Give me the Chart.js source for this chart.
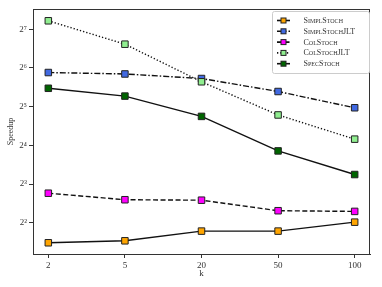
<!DOCTYPE html>
<html>
<head>
<meta charset="utf-8">
<script src="https://cdn.jsdelivr.net/npm/chart.js@4/dist/chart.umd.min.js"></script>
<style>
  html, body { margin: 0; padding: 0; background: #fff; }
  #wrap { width: 382px; height: 287px; }
</style>
</head>
<body>
<div id="wrap"><canvas id="chart"></canvas></div>
<script>
const categories = ['2', '5', '20', '50', '100'];
const seriesNames = ['SimplStoch', 'SimplStochJLT', 'ColStoch', 'ColStochJLT', 'SpecStoch'];
const simplStoch = [2.8, 2.9, 3.45, 3.45, 4.05];
const simplStochJLT = [59, 57.5, 53, 42, 31.4];
const colStoch = [6.8, 6.05, 6.0, 4.97, 4.91];
const colStochJLT = [149, 98, 50, 27.6, 17.9];
const specStoch = [44.5, 38.7, 26.9, 14.5, 9.5];
const yTickValues = [4, 8, 16, 32, 64, 128];
const yTickLabels = ['2²', '2³', '2⁴', '2⁵', '2⁶', '2⁷'];

const colors = ['#ffa500', '#4169e1', '#ff00ff', '#90ee90', '#006400'];
const dashes = [[], [6, 2, 1.5, 2], [5, 2.5], [1.3, 2], []];
const allSeries = [simplStoch, simplStochJLT, colStoch, colStochJLT, specStoch];

const serif = "'Liberation Serif', 'DejaVu Serif', serif";
const frameColor = '#333';
const textColor = '#333';

const datasets = [];
for (let i = 0; i < allSeries.length; i++) {
  datasets.push({
    label: seriesNames[i],
    data: allSeries[i].map((v, j) => ({ x: j, y: v })),
    borderColor: '#111',
    borderWidth: 1.4,
    borderDash: dashes[i],
    backgroundColor: colors[i],
    pointStyle: 'rect',
    pointRadius: 4.6,
    pointBorderWidth: 1,
    pointBorderColor: '#222',
    pointBackgroundColor: colors[i],
    tension: 0,
    order: allSeries.length - i
  });
}

// frame on all four sides + matplotlib style legend
const framePlugin = {
  id: 'frame',
  afterDatasetsDraw(chart) {
    const a = chart.chartArea;
    const ctx = chart.ctx;
    ctx.save();
    ctx.strokeStyle = frameColor;
    ctx.lineWidth = 1;
    ctx.strokeRect(a.left + 0.5, a.top + 0.5, a.right - a.left - 1, a.bottom - a.top);
    ctx.restore();
  },
  afterDraw(chart) {
    const ctx = chart.ctx;
    const x0 = 272, y0 = 11, w = 97, h = 62;
    ctx.save();
    ctx.fillStyle = 'rgba(255,255,255,0.85)';
    ctx.strokeStyle = '#cccccc';
    ctx.lineWidth = 1;
    ctx.beginPath();
    ctx.roundRect(x0 + 0.5, y0 + 0.5, w, h, 2);
    ctx.fill();
    ctx.stroke();
    chart.data.datasets.forEach((ds, i) => {
      const y = y0 + 9.5 + i * 10.8;
      ctx.strokeStyle = ds.borderColor;
      ctx.lineWidth = 1.6;
      ctx.setLineDash(ds.borderDash);
      ctx.beginPath();
      ctx.moveTo(277, y);
      ctx.lineTo(290, y);
      ctx.stroke();
      ctx.setLineDash([]);
      ctx.fillStyle = ds.pointBackgroundColor;
      ctx.fillRect(281, y - 2.5, 5, 5);
      ctx.strokeStyle = '#222';
      ctx.lineWidth = 1;
      ctx.strokeRect(281, y - 2.5, 5, 5);
      ctx.fillStyle = textColor;
      ctx.font = "small-caps 8px " + serif;
      ctx.fontVariantCaps = 'small-caps';
      ctx.textBaseline = 'middle';
      ctx.fillText(ds.label, 303.5, y + 0.5);
      ctx.fontVariantCaps = 'normal';
    });
    ctx.restore();
  }
};

const ctx = document.getElementById('chart');

new Chart(ctx, {
  type: 'line',
  data: { datasets: datasets },
  options: {
    responsive: true,
    maintainAspectRatio: false,
    animation: false,
    devicePixelRatio: 1,
    layout: { padding: { left: 0, right: 12, top: 9, bottom: 0 } },
    plugins: {
      legend: { display: false },
      tooltip: { enabled: false }
    },
    scales: {
      x: {
        type: 'linear',
        min: -0.2,
        max: 4.2,
        afterBuildTicks: (axis) => { axis.ticks = categories.map((c, j) => ({ value: j })); },
        afterFit: (axis) => { axis.height = 33; },
        ticks: {
          callback: (v) => categories[v],
          color: textColor,
          padding: 2,
          maxRotation: 0,
          font: { family: serif, size: 9 }
        },
        grid: { drawOnChartArea: false, drawTicks: true, tickLength: 4, color: frameColor },
        border: { display: true, color: frameColor },
        title: { display: true, text: 'k', color: textColor, padding: { top: 0, bottom: 8 }, font: { family: serif, size: 9 } }
      },
      y: {
        type: 'logarithmic',
        min: 2.29,
        max: 184,
        afterBuildTicks: (axis) => { axis.ticks = yTickValues.map(v => ({ value: v })); },
        afterFit: (axis) => { axis.width = 33; },
        ticks: {
          callback: (v) => yTickLabels[yTickValues.indexOf(v)],
          color: textColor,
          padding: 2,
          font: { family: serif, size: 9 }
        },
        grid: { drawOnChartArea: false, drawTicks: true, tickLength: 4, color: frameColor },
        border: { display: true, color: frameColor },
        title: { display: true, text: 'Speedup', color: textColor, padding: { top: 6, bottom: 0 }, font: { family: serif, size: 8 } }
      }
    }
  },
  plugins: [framePlugin]
});
</script>
</body>
</html>
